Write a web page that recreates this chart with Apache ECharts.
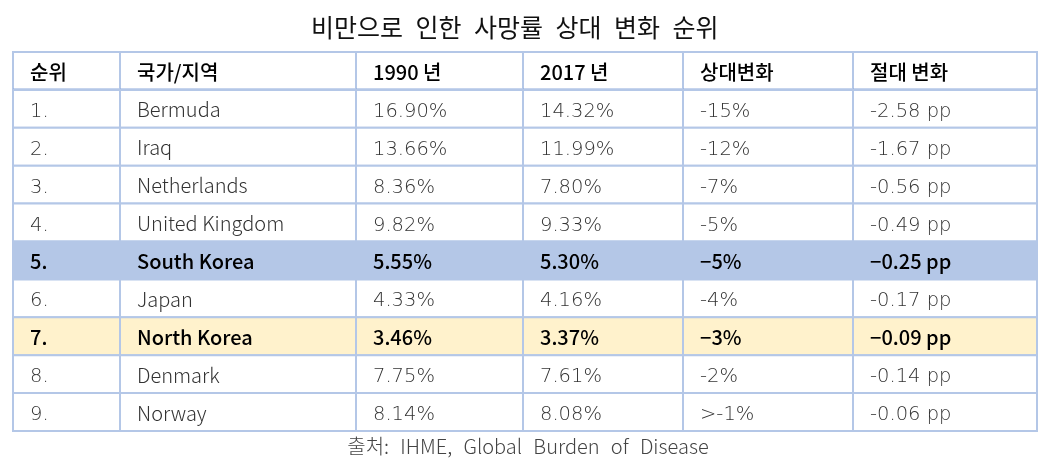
<!DOCTYPE html>
<html>
<head>
<meta charset="utf-8">
<script src="https://cdn.jsdelivr.net/npm/echarts@6/dist/echarts.min.js"></script>
<style>
  html, body { margin: 0; padding: 0; background: #fff; }
  #chart { width: 1056px; height: 464px; }
</style>
</head>
<body>
<div id="chart"></div>
<script>
// table data
const headers = ["순위", "국가/지역", "1990 년", "2017 년", "상대변화", "절대 변화"];
const ranks = ["1.", "2.", "3.", "4.", "5.", "6.", "7.", "8.", "9."];
const countries = ["Bermuda", "Iraq", "Netherlands", "United Kingdom", "South Korea", "Japan", "North Korea", "Denmark", "Norway"];
const rate1990 = ["16.90%", "13.66%", "8.36%", "9.82%", "5.55%", "4.33%", "3.46%", "7.75%", "8.14%"];
const rate2017 = ["14.32%", "11.99%", "7.80%", "9.33%", "5.30%", "4.16%", "3.37%", "7.61%", "8.08%"];
const relChange = ["-15%", "-12%", "-7%", "-5%", "-5%", "-4%", "-3%", "-2%", ">-1%"];
const absChange = ["-2.58 pp", "-1.67 pp", "-0.56 pp", "-0.49 pp", "-0.25 pp", "-0.17 pp", "-0.09 pp", "-0.14 pp", "-0.06 pp"];
const highlightRows = { "South Korea": "#b4c7e7", "North Korea": "#fff2cc" };

// column edges along the x value axis (layout only)
const colEdges = [0, 107, 343, 510, 670, 840, 1024];

const columns = [ranks, countries, rate1990, rate2017, relChange, absChange];
const rowNames = ["header"].concat(countries);
const cells = [];
for (let r = 0; r < rowNames.length; r++) {
  for (let c = 0; c < headers.length; c++) {
    cells.push([c, r]);
  }
}

const chart = echarts.init(document.getElementById("chart"), null, { renderer: "canvas" });

function cellFont(bold, c) {
  if (bold) return "500 20px 'Noto Sans CJK KR', 'Noto Sans', sans-serif";
  // numbers look wider in the original, DejaVu light is closer
  if (c !== 1) return "200 19.5px 'DejaVu Sans', 'Noto Sans CJK KR', sans-serif";
  return "300 20px 'Noto Sans CJK KR', 'Noto Sans', sans-serif";
}

function renderCell(params, api) {
  const c = api.value(0);
  const r = api.value(1);
  const x0 = api.coord([colEdges[c], r])[0];
  const x1 = api.coord([colEdges[c + 1], r])[0];
  const yc = api.coord([0, r])[1];
  const h = api.size([0, 1])[1];
  const y0 = yc - h / 2;
  const isHeader = r === 0;
  const country = isHeader ? null : countries[r - 1];
  const fill = (!isHeader && highlightRows[country]) || "#ffffff";
  const bold = isHeader || !!highlightRows[country];
  let text = isHeader ? headers[c] : columns[c][r - 1];
  if (bold) text = text.replace(/-/g, "\u2212");
  const lightNum = !bold && c !== 1;
  const children = [
    {
      type: "rect",
      shape: { x: x0, y: y0, width: x1 - x0, height: h },
      style: { fill: fill, stroke: "#b4c7e7", lineWidth: 2 }
    },
    {
      type: "text",
      style: {
        x: x0 + 17,
        y: yc + (lightNum ? 3 : 1),
        text: text,
        fill: bold ? "#000" : "#333",
        font: cellFont(bold, c),
        verticalAlign: "middle",
        align: "left"
      }
    }
  ];
  if (isHeader) {
    children.push({
      type: "line",
      shape: { x1: x0, y1: y0 + h, x2: x1, y2: y0 + h },
      style: { stroke: "#8eaadb", lineWidth: 3 }
    });
  }
  return { type: "group", children: children };
}

const option = {
  animation: false,
  title: [
    {
      text: "비만으로 인한 사망률 상대 변화 순위".replace(/ /g, "\u2002"),
      left: 306,
      top: 10,
      textStyle: { fontFamily: "Noto Sans CJK KR", fontSize: 25, fontWeight: 400, color: "#111" }
    },
    {
      text: "출처: IHME, Global Burden of Disease".replace(/ /g, "\u2002\u200A"),
      left: "center",
      bottom: 3,
      textStyle: { fontFamily: "Noto Sans CJK KR", fontSize: 20, fontWeight: 300, color: "#444" }
    }
  ],
  grid: { left: 13, right: 19, top: 52, bottom: 33 },
  xAxis: {
    type: "value",
    min: 0,
    max: colEdges[colEdges.length - 1],
    show: false
  },
  yAxis: {
    type: "category",
    data: rowNames,
    inverse: true,
    show: false
  },
  series: [
    {
      type: "custom",
      renderItem: renderCell,
      data: cells,
      encode: { x: 0, y: 1 }
    }
  ]
};

chart.setOption(option);
</script>
</body>
</html>
